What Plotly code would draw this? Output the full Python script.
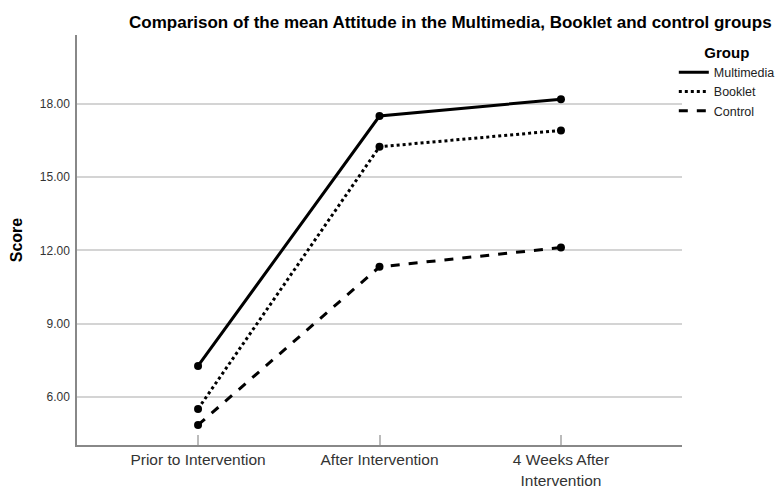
import plotly.graph_objects as go

categories = ["Prior to Intervention", "After Intervention", "4 Weeks After<br>Intervention"]
multimedia = [7.27, 17.51, 18.2]
booklet = [5.51, 16.25, 16.92]
control = [4.85, 11.33, 12.12]
series_names = ["Multimedia", "Booklet", "Control"]
dash_styles = ["solid", "dot", "dash"]
y_ticks = [6, 9, 12, 15, 18]

FONT = "Arial, Liberation Sans, sans-serif"
fig = go.Figure()
for name, vals, dash in zip(series_names, [multimedia, booklet, control], dash_styles):
    fig.add_trace(go.Scatter(
        x=[0, 1, 2], y=vals, name=name, mode="lines+markers", showlegend=False,
        line=dict(color="black", width=3, dash=dash),
        marker=dict(color="black", size=8),
    ))
    # legend entry shows the line style only
    fig.add_trace(go.Scatter(
        x=[None], y=[None], name=name, mode="lines",
        line=dict(color="black", width=3, dash=dash),
    ))

# page body has an 8px margin, so the figure is sized 8px smaller
fig.update_layout(
    width=776, height=479,
    margin=dict(l=69, r=102, t=27, b=42, autoexpand=False),
    paper_bgcolor="white", plot_bgcolor="white",
    font=dict(family=FONT, color="#222"),
    title=dict(text="<b>Comparison of the mean Attitude in the Multimedia, Booklet and control groups</b>",
               x=0.57, xanchor="center", y=0.971, yanchor="middle",
               font=dict(size=17, color="black")),
    legend=dict(xref="container", yref="container", x=0.858, xanchor="left", y=0.937, yanchor="top",
                title=dict(text="<b>Group</b>", side="top center", font=dict(size=15, color="black")),
                font=dict(size=12.5, color="#222"), itemwidth=30, tracegroupgap=0,
                bgcolor="rgba(0,0,0,0)"),
    xaxis=dict(range=[-0.667, 2.667], tickmode="array", tickvals=[0, 1, 2], ticktext=categories,
               showgrid=False, showline=True, linecolor="#888", linewidth=1.5,
               ticks="inside", ticklen=10, tickcolor="#bbb", tickwidth=1.5,
               tickfont=dict(size=15.5, color="#333"), zeroline=False, automargin=False),
    yaxis=dict(range=[4.03, 20.83], tickmode="array", tickvals=y_ticks,
               ticktext=[f"{v:.2f}" for v in y_ticks],
               showgrid=True, gridcolor="#d4d4d4", gridwidth=1.5,
               showline=True, linecolor="#888", linewidth=1.5, ticks="",
               ticklabelstandoff=3,
               tickfont=dict(size=12, color="#333"), zeroline=False, automargin=False,
               title=dict(text="<b>Score</b>", font=dict(size=16, color="black"), standoff=13)),
)
fig.write_html("out.html")
